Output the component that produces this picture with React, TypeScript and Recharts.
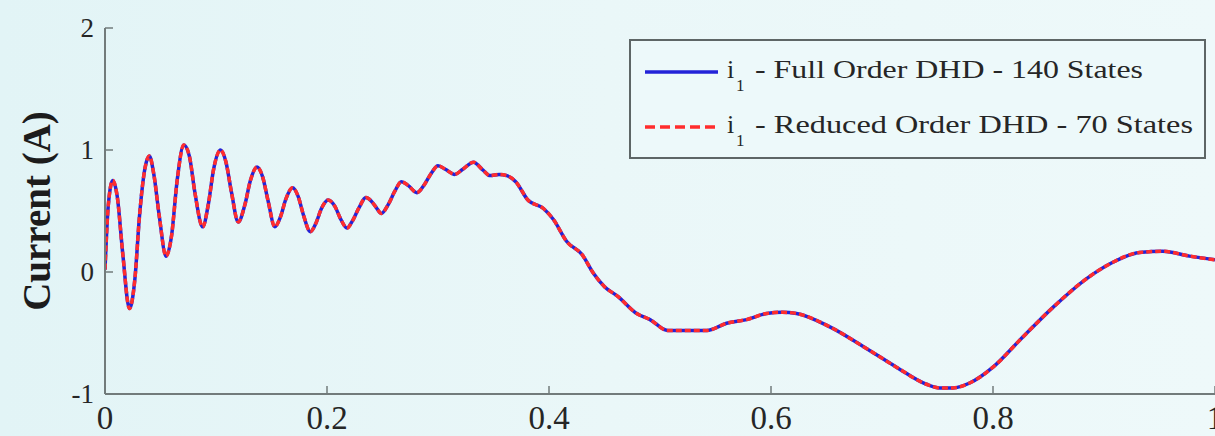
import { Legend, Line, LineChart, XAxis, YAxis } from 'recharts'

// time (s) and the i1 current (A); both models overlap
const timeS = [
  0.0, 0.003, 0.007, 0.011, 0.016, 0.022, 0.027, 0.031, 0.036, 0.04, 0.044, 0.049, 0.055, 0.06, 0.065,
  0.071, 0.076, 0.081, 0.088, 0.093, 0.098, 0.104, 0.109, 0.114, 0.12, 0.126, 0.131, 0.137, 0.142, 0.147,
  0.153, 0.158, 0.163, 0.169, 0.174, 0.179, 0.185, 0.19, 0.195, 0.201, 0.207, 0.212, 0.218, 0.223, 0.229,
  0.235, 0.24, 0.245, 0.249, 0.255, 0.261, 0.267, 0.273, 0.281, 0.288, 0.294, 0.3, 0.307, 0.315, 0.322,
  0.332, 0.34, 0.347, 0.355, 0.362, 0.37, 0.381, 0.395, 0.404, 0.416, 0.43, 0.44, 0.45, 0.462, 0.479,
  0.491, 0.507, 0.525, 0.542, 0.56, 0.578, 0.596, 0.61, 0.623, 0.653, 0.683, 0.713, 0.74, 0.752, 0.764,
  0.779, 0.8, 0.824, 0.854, 0.885, 0.908, 0.932, 0.953, 0.977, 1.0,
]

const fullOrderA = [
  0.02, 0.55, 0.75, 0.62, 0.15, -0.3, -0.05, 0.45, 0.85, 0.95, 0.8, 0.45, 0.13, 0.3, 0.75,
  1.04, 0.95, 0.65, 0.37, 0.55, 0.85, 1.0, 0.9, 0.65, 0.41, 0.55, 0.75, 0.86, 0.78, 0.58,
  0.37, 0.45, 0.6, 0.69, 0.62, 0.46, 0.33, 0.4, 0.52, 0.59, 0.54, 0.44, 0.36, 0.42, 0.53,
  0.61, 0.58, 0.52, 0.48, 0.55, 0.66, 0.74, 0.71, 0.65, 0.72, 0.81, 0.87, 0.84, 0.8, 0.84,
  0.9, 0.84, 0.79, 0.8, 0.79, 0.74, 0.59, 0.52, 0.43, 0.25, 0.14, -0.01, -0.12, -0.2, -0.34,
  -0.39, -0.48, -0.48, -0.48, -0.42, -0.39, -0.34, -0.33, -0.34, -0.45, -0.61, -0.78, -0.92, -0.95, -0.95,
  -0.91, -0.78, -0.56, -0.29, -0.05, 0.08, 0.16, 0.17, 0.13, 0.1,
]

const reducedOrderA = [
  0.02, 0.55, 0.75, 0.62, 0.15, -0.3, -0.05, 0.45, 0.85, 0.95, 0.8, 0.45, 0.13, 0.3, 0.75,
  1.04, 0.95, 0.65, 0.37, 0.55, 0.85, 1.0, 0.9, 0.65, 0.41, 0.55, 0.75, 0.86, 0.78, 0.58,
  0.37, 0.45, 0.6, 0.69, 0.62, 0.46, 0.33, 0.4, 0.52, 0.59, 0.54, 0.44, 0.36, 0.42, 0.53,
  0.61, 0.58, 0.52, 0.48, 0.55, 0.66, 0.74, 0.71, 0.65, 0.72, 0.81, 0.87, 0.84, 0.8, 0.84,
  0.9, 0.84, 0.79, 0.8, 0.79, 0.74, 0.59, 0.52, 0.43, 0.25, 0.14, -0.01, -0.12, -0.2, -0.34,
  -0.39, -0.48, -0.48, -0.48, -0.42, -0.39, -0.34, -0.33, -0.34, -0.45, -0.61, -0.78, -0.92, -0.95, -0.95,
  -0.91, -0.78, -0.56, -0.29, -0.05, 0.08, 0.16, 0.17, 0.13, 0.1,
]

const xTicks = [0, 0.2, 0.4, 0.6, 0.8, 1]
const yTicks = [-1, 0, 1, 2]
const seriesNames = ['Full Order DHD - 140 States', 'Reduced Order DHD - 70 States']

const data = timeS.map((t, i) => ({ t, full: fullOrderA[i], reduced: reducedOrderA[i] }))

const SERIF = '"Liberation Serif", "DejaVu Serif", serif'
const AXIS = '#727b7b'
const INK = '#262626'
const BLUE = '#2323d8'
const RED = '#ff2d2d'

function BottomTick({ x, y, payload }: any) {
  return (
    <g>
      <line x1={x} x2={x} y1={y} y2={y - 8} stroke={AXIS} strokeWidth={1.5} />
      <text x={x} y={y + 35} textAnchor="middle" fontSize={33} fontFamily={SERIF} fill={INK}>
        {payload.value}
      </text>
    </g>
  )
}

function LeftTick({ x, y, payload }: any) {
  return (
    <g>
      <line x1={x} x2={x + 8} y1={y} y2={y} stroke={AXIS} strokeWidth={1.5} />
      <text x={x - 11} y={y + 9} textAnchor="end" fontSize={27} fontFamily={SERIF} fill={INK}>
        {payload.value}
      </text>
    </g>
  )
}

const TopTick = ({ x, y }: any) => <line x1={x} x2={x} y1={y} y2={y + 8} stroke={AXIS} strokeWidth={1.5} />
const RightTick = ({ x, y }: any) => <line x1={x} x2={x - 8} y1={y} y2={y} stroke={AXIS} strokeWidth={1.5} />

function YTitle({ viewBox }: any) {
  const cx = 36
  const cy = viewBox.y + viewBox.height / 2
  return (
    <text
      x={cx}
      y={cy}
      transform={`rotate(-90 ${cx} ${cy})`}
      textAnchor="middle"
      dominantBaseline="central"
      fontSize={39}
      fontWeight="bold"
      fontFamily={SERIF}
      fill="#1c1c1c"
    >
      Current (A)
    </text>
  )
}

function LegendBox() {
  const rows = [
    { y: 33, color: BLUE, dash: undefined, len: 388 },
    { y: 88, color: RED, dash: '10 5', len: 438 },
  ]
  return (
    <svg width={578} height={121} style={{ display: 'block' }}>
      <rect x={1} y={1} width={575} height={118} fill="#edf9fa" stroke="#5e6666" strokeWidth={2} />
      {rows.map((r, i) => (
        <g key={i} fontFamily={SERIF} fill={INK}>
          <line x1={16} x2={89} y1={r.y} y2={r.y} stroke={r.color} strokeWidth={3.5} strokeDasharray={r.dash} />
          <text x={98} y={r.y + 6} fontSize={26}>i</text>
          <text x={107} y={r.y + 19} fontSize={17}>1</text>
          <text x={126} y={r.y + 6} fontSize={26} textLength={r.len} lengthAdjust="spacingAndGlyphs">
            {'- ' + seriesNames[i]}
          </text>
        </g>
      ))}
    </svg>
  )
}

export default function App() {
  return (
    <div
      style={{
        position: 'absolute',
        left: 0,
        top: 0,
        width: 1215,
        height: 436,
        overflow: 'hidden',
        background: 'linear-gradient(90deg, #e2f4f6 0%, #eaf7f8 50%, #eef9fa 100%)',
      }}
    >
      <LineChart width={1230} height={436} data={data} margin={{ top: 28, right: 15, bottom: 0, left: 0 }}>
        <XAxis
          dataKey="t"
          type="number"
          domain={[0, 1]}
          ticks={xTicks}
          allowDataOverflow
          height={42}
          tickSize={0}
          tickMargin={0}
          tick={<BottomTick />}
          axisLine={{ stroke: AXIS, strokeWidth: 2 }}
        />
        <XAxis
          xAxisId="top"
          orientation="top"
          dataKey="t"
          type="number"
          domain={[0, 1]}
          ticks={xTicks}
          allowDataOverflow
          height={0}
          tickSize={0}
          tickMargin={0}
          tick={<TopTick />}
          axisLine={{ stroke: AXIS, strokeWidth: 2 }}
        />
        <YAxis
          type="number"
          domain={[-1, 2]}
          ticks={yTicks}
          allowDataOverflow
          width={105}
          tickSize={0}
          tickMargin={0}
          tick={<LeftTick />}
          axisLine={{ stroke: AXIS, strokeWidth: 2 }}
          label={<YTitle />}
        />
        <YAxis
          yAxisId="right"
          orientation="right"
          type="number"
          domain={[-1, 2]}
          ticks={yTicks}
          allowDataOverflow
          width={0}
          tickSize={0}
          tickMargin={0}
          tick={<RightTick />}
          axisLine={{ stroke: AXIS, strokeWidth: 2 }}
        />
        <Legend
          layout="vertical"
          align="center"
          verticalAlign="middle"
          content={<LegendBox />}
          wrapperStyle={{ position: 'absolute', left: 629, top: 39, width: 578, height: 121 }}
        />
        <Line
          name={seriesNames[0]}
          dataKey="full"
          type="monotone"
          stroke={BLUE}
          strokeWidth={3.5}
          dot={false}
          isAnimationActive={false}
        />
        <Line
          name={seriesNames[1]}
          dataKey="reduced"
          type="monotone"
          stroke={RED}
          strokeWidth={3.5}
          strokeDasharray="6 3"
          dot={false}
          isAnimationActive={false}
        />
      </LineChart>
    </div>
  )
}
